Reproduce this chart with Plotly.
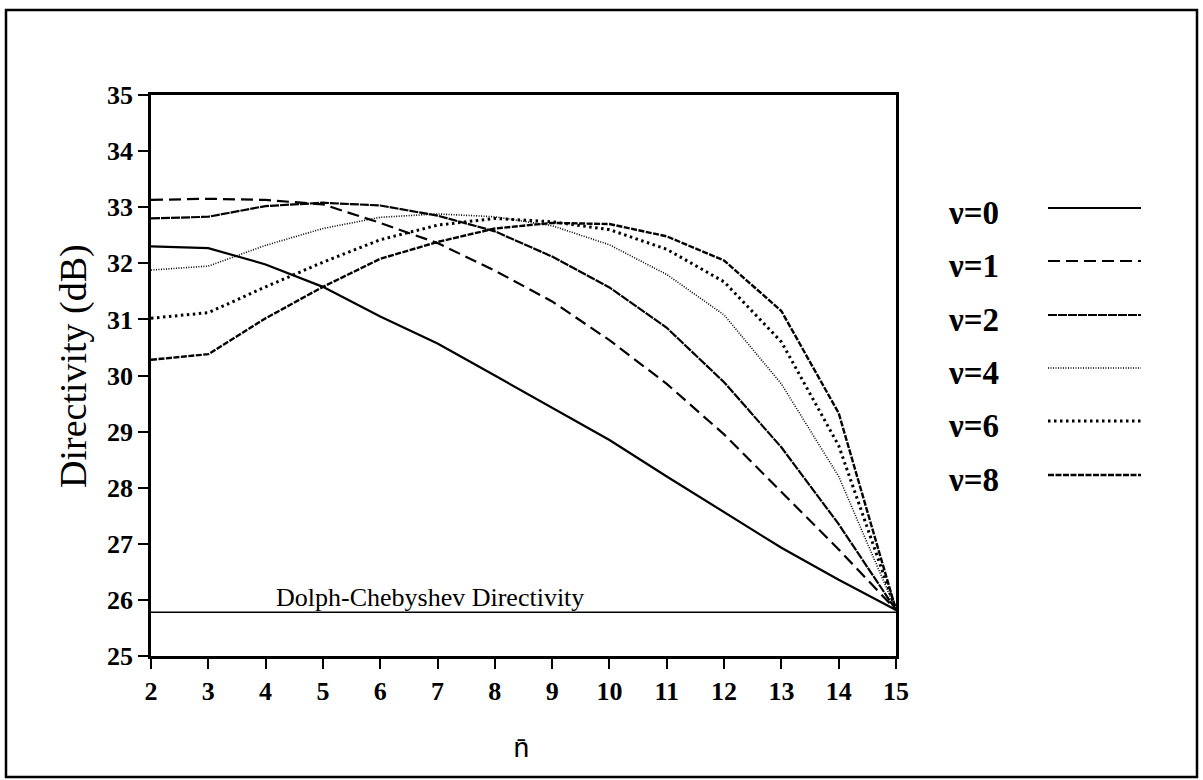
import plotly.graph_objects as go

# Number of equal-level sidelobes (n-bar) and directivity (dB) per nu value
n_bar = [2, 3, 4, 5, 6, 7, 8, 9, 10, 11, 12, 13, 14, 15]
nu_labels = ["ν=0", "ν=1", "ν=2", "ν=4", "ν=6", "ν=8"]
d_nu0 = [32.30, 32.27, 31.98, 31.58, 31.05, 30.57, 30.00, 29.43, 28.85, 28.20, 27.57, 26.93, 26.36, 25.82]
d_nu1 = [33.13, 33.15, 33.13, 33.05, 32.72, 32.36, 31.87, 31.32, 30.63, 29.85, 28.95, 27.93, 26.90, 25.82]
d_nu2 = [32.80, 32.83, 33.02, 33.08, 33.03, 32.85, 32.57, 32.12, 31.57, 30.85, 29.88, 28.72, 27.35, 25.82]
d_nu4 = [31.88, 31.95, 32.32, 32.62, 32.82, 32.88, 32.83, 32.67, 32.33, 31.80, 31.08, 29.85, 28.20, 25.82]
d_nu6 = [31.02, 31.12, 31.58, 32.02, 32.42, 32.68, 32.80, 32.74, 32.60, 32.25, 31.67, 30.60, 28.75, 25.82]
d_nu8 = [30.28, 30.38, 31.02, 31.58, 32.08, 32.38, 32.62, 32.72, 32.70, 32.48, 32.05, 31.15, 29.33, 25.82]
dolph_chebyshev = 25.78

y_ticks = [25, 26, 27, 28, 29, 30, 31, 32, 33, 34, 35]

series = [d_nu0, d_nu1, d_nu2, d_nu4, d_nu6, d_nu8]
styles = [
    dict(width=2.2, dash="solid"),
    dict(width=2.2, dash="12px,6px"),
    dict(width=2.2, dash="9px,1px"),
    dict(width=1.6, dash="1px,1.5px"),
    dict(width=3.0, dash="2.5px,3.5px"),
    dict(width=2.4, dash="6px,1.5px"),
]

W, H = 1203, 780
L, R, T, B = 151, 896, 95, 656


def px(X):
    return (X - L) / (R - L)


def py(Y):
    return (B - Y) / (B - T)


fig = go.Figure()
for vals, st, lab in zip(series, styles, nu_labels):
    fig.add_trace(go.Scatter(x=n_bar, y=vals, mode="lines", name=lab,
                             line=dict(color="black", **st), showlegend=False))

fig.add_trace(go.Scatter(x=[n_bar[0], n_bar[-1]], y=[dolph_chebyshev] * 2, mode="lines",
                         line=dict(color="black", width=1.6), showlegend=False))

serif = "Liberation Serif"
annotations = [
    dict(x=6.87, y=26.05, xref="x", yref="y", text="Dolph-Chebyshev Directivity",
         xanchor="center", yanchor="middle",
         showarrow=False, font=dict(family=serif, size=26, color="black")),
    dict(x=px(73), y=py(366), xref="paper", yref="paper", text="Directivity (dB)",
         xanchor="center", yanchor="middle",
         textangle=-90, showarrow=False, font=dict(family=serif, size=38, color="black")),
    dict(x=px(521), y=py(749), xref="paper", yref="paper", text="n\u0304",
         xanchor="center", yanchor="middle",
         showarrow=False, font=dict(family="Liberation Mono", size=28, color="black")),
]

shapes = []
legend_y = [208, 261, 315, 368, 421, 475]
for lab, st, yy in zip(nu_labels, styles, legend_y):
    annotations.append(dict(x=px(946), y=py(yy + 5), xref="paper", yref="paper", text=lab,
                            xanchor="left", yanchor="middle", showarrow=False,
                            font=dict(family=serif, size=33, color="black", weight="bold")))
    shapes.append(dict(type="line", xref="paper", yref="paper", x0=px(1048), x1=px(1141),
                       y0=py(yy), y1=py(yy), line=dict(color="black", width=st["width"], dash=st["dash"])))

# outer frame
shapes.append(dict(type="rect", xref="paper", yref="paper", x0=px(6), x1=px(1197),
                   y0=py(777), y1=py(10), line=dict(color="black", width=2.5)))

fig.update_layout(
    width=W, height=H,
    margin=dict(l=L, r=W - R, t=T, b=H - B),
    paper_bgcolor="white", plot_bgcolor="white",
    annotations=annotations, shapes=shapes,
    xaxis=dict(range=[2, 15], tickvals=n_bar, ticks="outside", ticklen=10, tickwidth=2,
               tickcolor="black", showline=True, linewidth=2.5, linecolor="black", mirror=True,
               showgrid=False, zeroline=False,
               tickfont=dict(family=serif, size=26, color="black", weight="bold")),
    yaxis=dict(range=[25, 35], tickvals=y_ticks, ticks="outside", ticklen=10, tickwidth=2,
               tickcolor="black", showline=True, linewidth=2.5, linecolor="black", mirror=True,
               showgrid=False, zeroline=False,
               tickfont=dict(family=serif, size=26, color="black", weight="bold")),
)

fig.write_html("out.html")
